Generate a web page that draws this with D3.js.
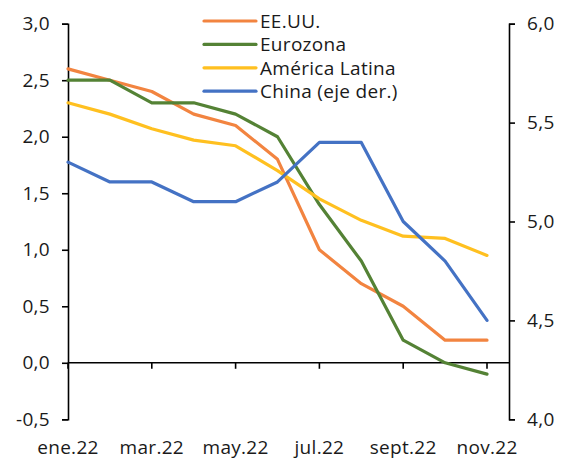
<!DOCTYPE html>
<html>
<head>
<meta charset="utf-8">
<script src="https://cdn.jsdelivr.net/npm/d3@7"></script>
<style>
  html, body { margin: 0; padding: 0; background: #fff; }
  svg text { font-family: "Open Sans", sans-serif; fill: #1a1a1a; letter-spacing: 0.3px; }
</style>
</head>
<body>
<svg id="chart" width="561" height="459"></svg>
<script>
// Monthly categories
const months = ["ene.22", "feb.22", "mar.22", "abr.22", "may.22", "jun.22",
                "jul.22", "ago.22", "sept.22", "oct.22", "nov.22"];

// Series (left axis)
const usa      = [2.6, 2.5, 2.4, 2.2, 2.1, 1.8, 1.0, 0.7, 0.5, 0.2, 0.2];
const eurozone = [2.5, 2.5, 2.3, 2.3, 2.2, 2.0, 1.4, 0.9, 0.2, 0.0, -0.1];
const latam    = [2.3, 2.2, 2.07, 1.97, 1.92, 1.7, 1.45, 1.26, 1.12, 1.1, 0.95];
// Series (right axis)
const china    = [5.3, 5.2, 5.2, 5.1, 5.1, 5.2, 5.4, 5.4, 5.0, 4.8, 4.5];

const leftTicks  = [-0.5, 0, 0.5, 1.0, 1.5, 2.0, 2.5, 3.0];
const rightTicks = [4.0, 4.5, 5.0, 5.5, 6.0];
const xLabelMonths = ["ene.22", "mar.22", "may.22", "jul.22", "sept.22", "nov.22"];

const seriesNames  = ["EE.UU.", "Eurozona", "América Latina", "China (eje der.)"];
const seriesColors = ["#F28440", "#548235", "#FFC020", "#4472C4"];

const svg = d3.select("#chart");
const fontSize = 19;

const x = d3.scalePoint().domain(months).range([68, 487]);
const rightAxisX = 509;
const yL = d3.scaleLinear().domain([-0.5, 3.0]).range([419.3, 23.7]);
const yR = d3.scaleLinear().domain([4.0, 6.0]).range([419.3, 23.7]);

// Spanish decimal comma, plain hyphen for negatives
const fmt = v => d3.format(".1f")(v).replace(".", ",").replace("\u2212", "-");

// Left axis
const leftAxis = d3.axisLeft(yL).tickValues(leftTicks).tickSize(6).tickPadding(12).tickFormat(fmt);
const gL = svg.append("g").attr("transform", "translate(68,0)").call(leftAxis);

// Right axis
const rightAxis = d3.axisRight(yR).tickValues(rightTicks).tickSize(6).tickPadding(12).tickFormat(fmt);
const gR = svg.append("g").attr("transform", `translate(${rightAxisX},0)`).call(rightAxis);

// Horizontal axis on the zero line
const y0 = yL(0);
const gX = svg.append("g");
gX.append("line")
  .attr("x1", 68).attr("x2", rightAxisX)
  .attr("y1", y0).attr("y2", y0)
  .attr("stroke", "#000").attr("stroke-width", 1.6);
gX.selectAll("line.tick")
  .data(xLabelMonths)
  .join("line")
  .attr("class", "tick")
  .attr("x1", d => x(d)).attr("x2", d => x(d))
  .attr("y1", y0).attr("y2", y0 + 6)
  .attr("stroke", "#000").attr("stroke-width", 1.6);
svg.append("g").selectAll("text")
  .data(xLabelMonths)
  .join("text")
  .attr("x", d => x(d))
  .attr("y", 447)
  .attr("text-anchor", "middle")
  .attr("dominant-baseline", "central")
  .style("font-size", fontSize + "px")
  .text(d => d);

[gL, gR].forEach(g => {
  g.select(".domain").attr("stroke", "#000").attr("stroke-width", 1.6);
  g.selectAll(".tick line").attr("stroke", "#000").attr("stroke-width", 1.6);
  g.selectAll(".tick text").style("font-size", fontSize + "px").attr("fill", "#1a1a1a");
});

// Lines
const lineL = d3.line().x((d, i) => x(months[i])).y(d => yL(d));
const lineR = d3.line().x((d, i) => x(months[i])).y(d => yR(d));

const plotted = [
  { values: usa, gen: lineL },
  { values: eurozone, gen: lineL },
  { values: latam, gen: lineL },
  { values: china, gen: lineR }
];
svg.append("g").selectAll("path")
  .data(plotted)
  .join("path")
  .attr("d", d => d.gen(d.values))
  .attr("fill", "none")
  .attr("stroke", (d, i) => seriesColors[i])
  .attr("stroke-width", 3.2)
  .attr("stroke-linejoin", "round")
  .attr("stroke-linecap", "round");

// Legend
const legend = svg.append("g");
const rows = legend.selectAll("g")
  .data(seriesNames)
  .join("g")
  .attr("transform", (d, i) => `translate(204,${21 + i * 23.4})`);
rows.append("line")
  .attr("x1", 0).attr("x2", 52)
  .attr("stroke", (d, i) => seriesColors[i])
  .attr("stroke-width", 3.2)
  .attr("stroke-linecap", "round");
rows.append("text")
  .attr("x", 56)
  .attr("y", 0)
  .attr("dominant-baseline", "central")
  .style("font-size", fontSize + "px")
  .text(d => d);
</script>
</body>
</html>
